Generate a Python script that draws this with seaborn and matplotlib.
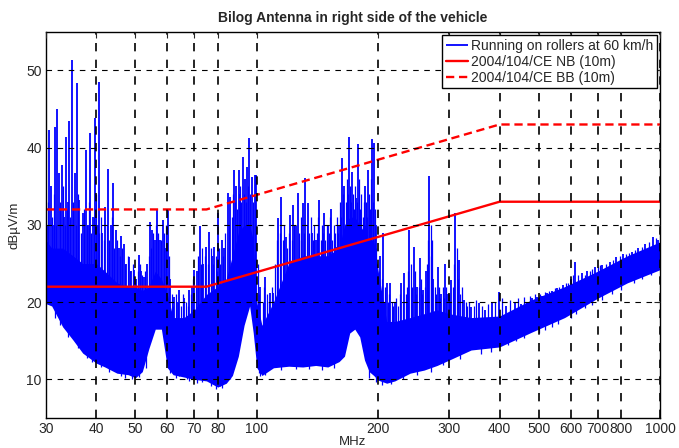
import numpy as np
import matplotlib
matplotlib.use('Agg')
import matplotlib.pyplot as plt
import seaborn as sns

# spectrum envelope (MHz, dBuV/m)
freq_env = [30, 31, 33, 35, 37, 40, 42, 45, 48, 50, 52, 54, 56, 58, 60, 62, 66, 70, 75, 80,
            84, 87, 90, 93, 96, 98, 100, 103, 110, 120, 130, 140, 150, 160, 165, 170, 175, 180,
            185, 190, 195, 200, 210, 220, 240, 260, 280, 300, 340, 400, 480, 580, 700, 830, 1000]
floor_db = [19.8, 19.5, 16.8, 15.1, 13.4, 12.1, 11.6, 10.8, 10.6, 10.2, 11.0, 14.0, 16.5, 16.5,
            11.5, 10.6, 10.3, 10.0, 9.8, 9.0, 9.5, 10.5, 13.0, 17.0, 19.5, 16.0, 11.5, 10.5,
            11.5, 11.7, 11.6, 11.8, 11.6, 12.3, 13.0, 16.0, 16.5, 15.5, 12.5, 11.0, 10.5, 9.9,
            9.5, 9.8, 10.8, 11.2, 11.8, 12.5, 13.8, 14.2, 16.1, 18.0, 20.5, 22.5, 24.2]
body_db = [28, 27, 27, 26, 25, 25, 24, 22.5, 22, 22, 21.5, 22, 24, 23, 21, 18, 18, 19, 21, 22,
           23, 26, 29, 30, 30, 28, 20, 17, 20, 25, 26, 26, 26, 27, 30, 31, 31, 30, 29, 28, 28,
           24, 17.5, 17.5, 18, 18.5, 19, 18.5, 18, 18.2, 20.3, 22, 24, 26, 27.8]

# narrow peaks above the dense part
spike_freq = [30.2, 30.5, 30.8, 31.2, 31.6, 32.0, 32.3, 32.8, 33.2, 33.6, 34.0, 34.3, 34.8, 35.4,
              35.9, 36.3, 37.0, 37.7, 38.2, 38.6, 39.2, 39.8, 40.3, 40.7, 41.4, 42.0, 42.8, 43.4,
              44.0, 44.7, 45.4, 46.0, 46.8, 47.5, 48.1, 48.8, 49.5, 50.2, 51.0, 51.7, 52.4, 53.4,
              54.4, 55.0, 55.8, 56.7, 57.5, 58.4, 59.2, 60.1, 61.0, 62.5, 63.4, 64.3, 66.0, 68.0,
              69.0, 70.0, 71.0, 72.1, 73.5, 75.0, 76.3, 77.5, 78.5, 80.2, 81.8, 83.0, 84.6, 86.0,
              88.0, 89.0, 90.1, 91.0, 92.2, 93.3, 94.4, 95.5, 97.1, 98.8,
              99.6, 102, 105, 108, 110, 113, 115, 118, 121, 123, 125, 126.5, 130, 132, 134, 137,
              140, 143, 147, 150, 153, 157, 160, 163, 165, 169, 172, 176, 178, 182, 185, 189, 193,
              195, 198, 202, 206, 210, 214, 220, 228, 232, 239, 245, 250, 254, 259, 263, 268, 274,
              281, 287, 293, 298, 304, 311, 318, 326, 340, 356, 369, 384, 398, 415, 436, 452, 468,
              482, 496, 510, 525, 540, 555, 575, 600, 615, 640, 660, 690, 720, 750, 780, 810, 850,
              880, 920, 960, 990]
spike_db = [30, 42.3, 35, 30, 42.7, 45, 36.7, 37.8, 31, 41.4, 33, 43.5, 51.4, 36.7,
            48.4, 33.2, 31.5, 39.7, 30, 41.9, 31, 43.8, 30, 48.5, 29, 32.3, 37.3, 30,
            35.4, 29.4, 27, 28.5, 27.5, 25, 25.9, 24, 24.2, 23, 26.1, 24, 23.3, 25,
            30.4, 29.4, 28, 32, 28, 30.6, 27, 32, 23, 20.7, 20, 21.6, 20.5, 21.6,
            22, 24.2, 24, 29.8, 25, 27.2, 29.1, 26, 27.2, 31.5, 28, 27, 34.1, 33.6,
            37.1, 35, 37.1, 34, 38.8, 36, 37.5, 41.3, 36.2, 36.5,
            36.5, 22, 23.3, 21.2, 21.2, 30.9, 33.6, 28.4, 31.3, 32.6, 29.8, 34.1, 32.8, 36.1, 32.8, 29,
            28, 33.2, 31.5, 30, 32, 27.2, 30, 38.7, 35, 41.4, 36.9, 33.5, 40.5, 28.7, 35, 37.1, 41.1,
            40.6, 30, 26, 29, 22.5, 22.5, 20, 22.5, 23.8, 29.4, 27.2, 22, 25.7, 21.6, 24, 36.3, 23,
            24.6, 21, 25, 21, 22.9, 31.5, 25.5, 20.3, 19.4, 19.9, 19, 19.9, 21.3, 19.5, 20, 19.8, 20,
            20.5, 20.7, 20.8, 21.2, 21.5, 21.8, 22.2, 23, 25.2, 23.8, 24, 24.5, 24.8, 25.2, 25.8, 26.2,
            26.5, 27, 27.5, 28.4, 28]

# smaller ripples on top of the dense part
ripple_freq = [30.4, 31.0, 31.4, 31.8, 32.5, 33.0, 33.4, 33.8, 34.5, 35.1, 35.6, 36.0, 36.6, 37.3,
               37.9, 38.4, 38.9, 39.5, 40.0, 40.5, 41.0, 41.7, 42.4, 43.1, 43.7, 44.3, 45.0, 45.7,
               46.4, 47.1, 47.8, 48.5, 49.2, 49.8, 50.6, 51.3, 52.0, 52.8, 53.9, 54.7, 55.4, 56.2,
               57.0, 57.9, 58.8, 59.6, 60.5, 61.5, 62.0, 63.0, 63.8, 64.8, 65.5, 66.7, 67.4, 68.5,
               69.5, 70.5, 71.5, 72.7, 73.0, 74.2, 75.6, 76.9, 78.0, 79.0, 79.6, 80.8, 81.2, 82.4,
               83.6, 85.3, 86.7, 87.4, 88.5, 89.5, 90.6, 91.6, 92.8, 93.8, 94.9, 96.3, 97.8, 99.2,
               100.5, 101.2, 103.5, 104, 106, 107, 109, 111, 112, 114, 116, 117, 119, 120, 122, 124,
               127.5, 128.5, 129, 131, 133, 135, 136, 138, 139, 141, 142, 144, 145, 146, 148, 149,
               151, 152, 154, 155, 156, 158, 159, 161, 162, 164, 166, 167, 168, 170, 171, 173, 174,
               175, 177, 179, 180, 181, 183, 184, 186, 187, 188, 190, 191, 192, 194, 196, 197, 199,
               200.5, 201, 203, 204, 205, 207, 208, 211, 212, 213, 216, 218, 222, 224, 226, 230, 234,
               236, 237, 241, 243, 247, 248, 252, 256, 257, 261, 265, 266, 270, 271, 272, 276, 278,
               283, 285, 289, 291, 295, 300, 302, 306, 308, 313, 315, 320, 323, 330, 333, 336, 345,
               350, 362, 375, 390, 405, 425, 445, 460, 475, 490, 503, 518, 532, 548, 563, 585, 593,
               607, 625, 650, 670, 680, 700, 710, 735, 765, 795, 825, 840, 865, 900, 940, 975]
ripple_db = [33, 31, 34, 30, 33, 35, 30, 32, 31, 33, 30, 34, 29, 32,
             30, 33, 29, 31, 34, 29, 31, 28, 30, 28, 31, 27, 28, 26,
             27, 25, 26, 24, 25, 23, 24, 25, 23.5, 24, 26, 27, 29, 30,
             29, 28, 29, 30, 26, 21, 19.5, 21, 20, 19.5, 21, 20, 19.5, 21,
             23, 22, 26, 25, 27, 26, 25, 27, 25, 26, 24, 27, 25, 26,
             29, 30, 31, 34, 33, 32, 35, 33, 34, 33, 35, 34, 33, 30,
             25, 21, 20, 22, 21, 20, 22, 25, 28, 29, 28, 30, 27, 29, 28, 30,
             29, 31, 28, 29, 30, 29, 31, 28, 30, 29, 31, 28, 30, 29, 28, 30,
             29, 31, 28, 30, 29, 31, 29, 33, 31, 34, 33, 36, 34, 35, 33, 34, 32,
             35, 33, 36, 32, 34, 31, 33, 30, 33, 31, 34, 32, 36, 33, 32, 27, 25,
             22, 24, 21, 23, 20, 20, 22, 20, 19.5, 21, 20, 19.5, 20.5, 19.5, 21, 20, 21,
             22, 24, 25, 22, 24, 21, 22, 23, 21, 22, 25, 28, 30, 26, 28, 22, 21,
             22, 20.5, 22, 20.5, 22, 21, 20, 22, 25, 27, 23, 21, 22, 20, 19.5, 20, 19.5,
             20.3, 19.5, 19.8, 20, 20.5, 20.3, 20.5, 20.6, 20.8, 21, 21, 21.3, 21.5, 21.8, 22, 22.5, 22.5,
             23.5, 23.5, 23.5, 24, 24.3, 24.5, 24.8, 25, 25.5, 26, 26.2, 26.4, 26.8, 27.2, 27.8, 28.3]

# small dips under the floor
dip_freq = [31.5, 32.5, 34, 36, 38, 39, 41, 43, 44, 46, 47, 49, 51, 53, 61, 63, 64, 67, 68, 71,
            73, 77, 78, 79, 81, 82, 83, 86, 101, 102, 105, 115, 125, 135, 145, 155, 190, 198, 205,
            215, 230, 250, 270, 290, 320, 360, 380, 420, 440, 460, 500, 520, 540, 560, 600, 620,
            650, 680, 720, 760, 800, 860, 900, 950]
dip_db = [18, 17, 15.5, 14, 12.8, 12.2, 11.6, 11, 11.3, 10.4, 10.2, 10.0, 10.3, 11.5, 10.8, 10.2,
          10.5, 10, 9.8, 9.5, 9.7, 9.2, 9.4, 8.8, 9.2, 8.9, 9.6, 10, 10.8, 10.4, 10.6, 11.2, 11.3,
          11.3, 11.2, 11.5, 10.2, 9.6, 9.3, 9.4, 10, 10.6, 11, 11.8, 12.6, 13.3, 13.6, 14.5, 15,
          15.4, 16, 16.4, 16.8, 17.2, 17.9, 18.5, 19.2, 19.6, 20.3, 21, 21.6, 22.5, 23, 23.5]

# 2004/104/CE limits
lim_freq = [30, 75, 400, 1000]
nb_limit = [22, 22, 33, 33]
bb_limit = [32, 32, 43, 43]

xticks = [30, 40, 50, 60, 70, 80, 100, 200, 300, 400, 500, 600, 700, 800, 1000]
yticks = [10, 20, 30, 40, 50]

sns.set_style('white')
plt.rcParams['font.family'] = ['Liberation Sans', 'DejaVu Sans']

fig = plt.figure(figsize=(6.79, 4.48), dpi=100)
ax = fig.add_axes([0.0677, 0.067, 0.9043, 0.862])

# measured spectrum
blue = '#0000ff'
ax.fill_between(freq_env, floor_db, body_db, color=blue, lw=0)
ax.vlines(ripple_freq, np.interp(ripple_freq, freq_env, body_db) - 1, ripple_db,
          color=blue, lw=0.9)
ax.vlines(dip_freq, np.interp(dip_freq, freq_env, floor_db) + 1, dip_db,
          color=blue, lw=0.9)
ax.vlines(spike_freq, np.interp(spike_freq, freq_env, body_db) - 1, spike_db,
          color=blue, lw=1.3, label='Running on rollers at 60 km/h')

sns.lineplot(x=lim_freq, y=nb_limit, color='red', lw=1.7, ax=ax,
             label='2004/104/CE NB (10m)')
sns.lineplot(x=lim_freq, y=bb_limit, color='red', lw=1.7, ax=ax,
             linestyle=(0, (3.5, 2)), label='2004/104/CE BB (10m)')

ax.set_xscale('log')
ax.set_xlim(30, 1000)
ax.set_ylim(5, 55)
ax.set_xticks(xticks)
ax.set_xticklabels([str(t) for t in xticks])
ax.minorticks_off()
ax.set_yticks(yticks)

ax.set_axisbelow(False)
ax.grid(True, which='major', axis='x', color='black', ls=(0, (5, 5)), lw=1.2)
ax.grid(True, which='major', axis='y', color='black', ls=(0, (5, 5)), lw=0.8)
ax.tick_params(direction='in', top=True, right=True, length=4, labelsize=10, pad=3)

for s in ax.spines.values():
    s.set_color('black')
    s.set_linewidth(1.0)

ax.set_title('Bilog Antenna in right side of the vehicle', fontsize=10,
             fontweight='bold', pad=7)
ax.set_xlabel('MHz', fontsize=9.5, labelpad=0)
ax.set_ylabel('dB\u00b5V/m', fontsize=9.5, labelpad=4)

leg = ax.legend(loc='upper right', fontsize=10, frameon=True, fancybox=False,
                framealpha=1, edgecolor='black', borderaxespad=0.25,
                handlelength=1.6, handletextpad=0.2, borderpad=0.25, labelspacing=0.15)
leg.get_frame().set_linewidth(1.0)

fig.savefig('out.png', dpi=100)
